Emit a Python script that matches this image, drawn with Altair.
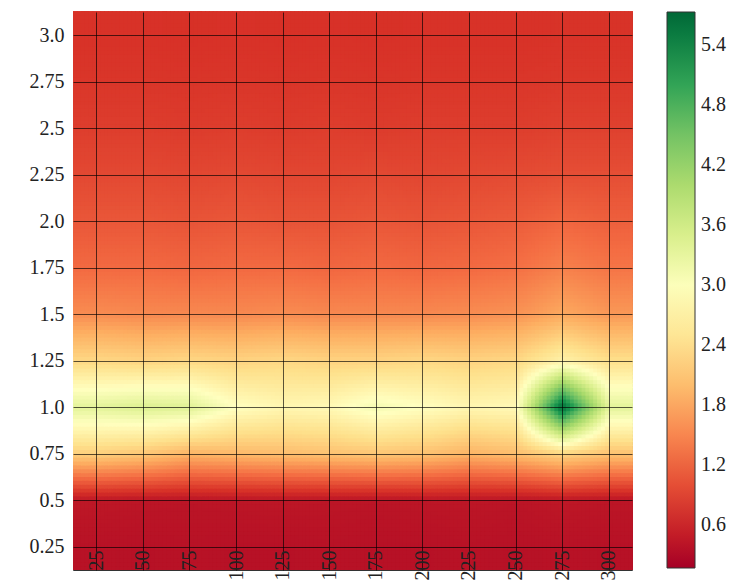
import numpy as np
import pandas as pd
import altair as alt

alt.data_transformers.disable_max_rows()

x_vals = [25, 50, 75, 100, 125, 150, 175, 200, 225, 250, 275, 300]
y_vals = [0.25, 0.5, 0.75, 1.0, 1.25, 1.5, 1.75, 2.0, 2.25, 2.5, 2.75, 3.0]

# one list per row, bottom (0.25) to top (3.0), columns follow x_vals
row_025 = [0.38, 0.37, 0.38, 0.37, 0.37, 0.38, 0.37, 0.37, 0.38, 0.37, 0.38, 0.37]
row_050 = [0.44, 0.42, 0.41, 0.42, 0.43, 0.42, 0.41, 0.42, 0.43, 0.41, 0.44, 0.42]
row_075 = [2.20, 2.10, 1.90, 1.95, 2.00, 2.05, 2.10, 2.05, 1.90, 2.00, 2.25, 2.05]
row_100 = [3.35, 3.45, 3.40, 2.95, 2.80, 2.85, 3.10, 2.95, 2.80, 2.85, 5.70, 3.35]
row_125 = [2.30, 2.25, 2.30, 2.25, 2.30, 2.25, 2.25, 2.30, 2.25, 2.30, 2.70, 2.40]
row_150 = [1.55, 1.52, 1.52, 1.52, 1.55, 1.52, 1.52, 1.52, 1.55, 1.60, 1.80, 1.65]
row_175 = [1.25, 1.25, 1.22, 1.25, 1.25, 1.22, 1.25, 1.22, 1.25, 1.30, 1.45, 1.35]
row_200 = [1.08, 1.08, 1.05, 1.08, 1.05, 1.05, 1.08, 1.05, 1.08, 1.12, 1.22, 1.16]
row_225 = [0.95, 0.95, 0.93, 0.95, 0.93, 0.93, 0.95, 0.93, 0.95, 0.97, 1.00, 1.00]
row_250 = [0.85, 0.85, 0.83, 0.85, 0.83, 0.85, 0.83, 0.85, 0.85, 0.85, 0.88, 0.88]
row_275 = [0.78, 0.78, 0.77, 0.78, 0.77, 0.78, 0.77, 0.78, 0.78, 0.78, 0.80, 0.80]
row_300 = [0.74, 0.74, 0.73, 0.74, 0.73, 0.74, 0.73, 0.74, 0.74, 0.74, 0.75, 0.75]

cbar_ticks = [0.6, 1.2, 1.8, 2.4, 3.0, 3.6, 4.2, 4.8, 5.4]
vmin, vmax = 0.17, 5.73
rdylgn = ["#a50026", "#d73027", "#f46d43", "#fdae61", "#fee08b", "#ffffbf",
          "#d9ef8b", "#a6d96a", "#66bd63", "#1a9850", "#006837"]

grid = np.array([row_025, row_050, row_075, row_100, row_125, row_150,
                 row_175, row_200, row_225, row_250, row_275, row_300])
n_r, n_c = grid.shape
dx = x_vals[1] - x_vals[0]
dy = y_vals[1] - y_vals[0]

# bilinear display smoothing, like imshow(interpolation="bilinear")
S = 12


def axis_pos(n):
    p = (np.arange(n * S) + 0.5) / S - 0.5
    p = np.clip(p, 0, n - 1)
    i0 = np.minimum(np.floor(p).astype(int), n - 2)
    return i0, p - i0


ix0, fx = axis_pos(n_c)
iy0, fy = axis_pos(n_r)
recs = []
for a in range(n_r * S):
    r0, wy = iy0[a], fy[a]
    y_lo = y_vals[0] - dy / 2 + a * dy / S
    for b in range(n_c * S):
        c0, wx = ix0[b], fx[b]
        v = ((1 - wy) * (1 - wx) * grid[r0, c0] + (1 - wy) * wx * grid[r0, c0 + 1]
             + wy * (1 - wx) * grid[r0 + 1, c0] + wy * wx * grid[r0 + 1, c0 + 1])
        x_lo = x_vals[0] - dx / 2 + b * dx / S
        recs.append((round(x_lo, 4), round(x_lo + dx / S * 1.25, 4),
                     round(y_lo, 5), round(y_lo + dy / S * 1.25, 5), round(float(v), 4)))
df = pd.DataFrame(recs, columns=["x", "x2", "y", "y2", "v"])

font = "Liberation Serif"
xdom = [x_vals[0] - dx / 2, x_vals[-1] + dx / 2]
ydom = [y_vals[0] - dy / 2, y_vals[-1] + dy / 2]

chart = alt.Chart(df).mark_rect().encode(
    x=alt.X("x:Q", scale=alt.Scale(domain=xdom, nice=False, zero=False),
            axis=alt.Axis(values=x_vals, title=None, labelAngle=270, labelPadding=-20,
                          ticks=False, domain=False, grid=True, gridColor="#000000",
                          gridOpacity=0.65, gridWidth=1, zindex=1, labelOverlap=False,
                          labelFont=font, labelFontSize=20, labelColor="#222222")),
    x2="x2:Q",
    y=alt.Y("y:Q", scale=alt.Scale(domain=ydom, nice=False, zero=False),
            axis=alt.Axis(values=y_vals, title=None, ticks=False, domain=False, grid=True,
                          gridColor="#000000", gridOpacity=0.65, gridWidth=1, zindex=1,
                          labelPadding=9, minExtent=60, labelOverlap=False,
                          labelExpr="(datum.value*4)%2==0 ? format(datum.value,'.1f') : format(datum.value,'.2f')",
                          labelFont=font, labelFontSize=20, labelColor="#222222")),
    y2="y2:Q",
    color=alt.Color("v:Q",
                    scale=alt.Scale(domain=list(np.linspace(vmin, vmax, len(rdylgn))),
                                    range=rdylgn, interpolate="rgb", clamp=True),
                    legend=alt.Legend(title=None, values=cbar_ticks, format=".1f",
                                      gradientLength=556, gradientThickness=28,
                                      gradientStrokeColor="#333333", gradientStrokeWidth=1,
                                      labelFont=font, labelFontSize=20, labelColor="#222222",
                                      labelOffset=6, offset=35, direction="vertical")),
).properties(
    width=559, height=558,
    padding={"left": 5, "top": 3, "right": 5, "bottom": 5},
).configure_view(stroke="#333333", strokeWidth=1)

chart.save("out.html", embed_options={"renderer": "svg", "actions": False})
